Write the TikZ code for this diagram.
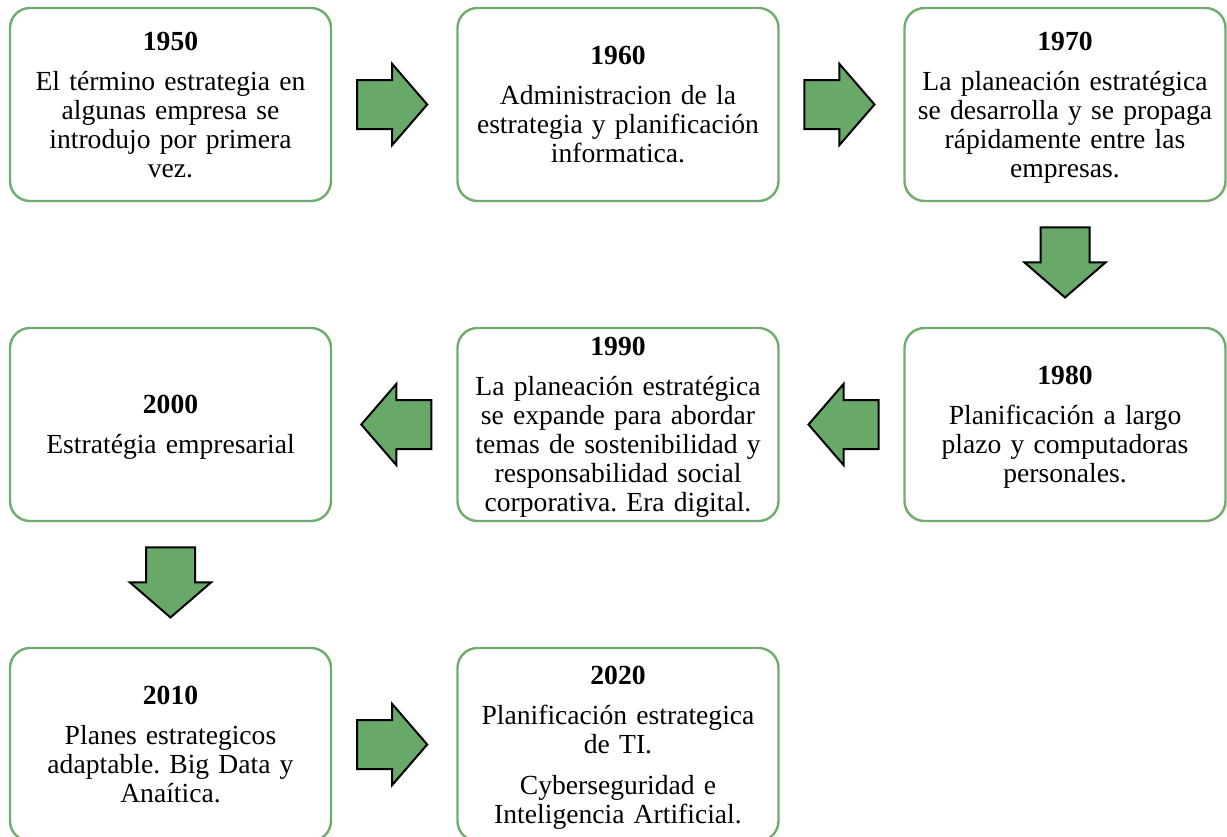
\documentclass[tikz,border=0pt]{standalone}
\usepackage{fontspec}
\setmainfont{Liberation Serif}
\usetikzlibrary{calc}

\definecolor{boxgreen}{RGB}{112,173,108}
\definecolor{arrowgreen}{RGB}{104,168,104}

\tikzset{
  yearbox/.style={draw=boxgreen, line width=2.4pt, rounded corners=20pt,
    minimum width=321pt, minimum height=193pt, inner sep=0pt, outer sep=0pt},
  boxtext/.style={font=\fontsize{27.6}{29}\selectfont\frenchspacing, align=center,
    text width=330pt, inner sep=0pt, anchor=base},
  arrowbody/.style={draw=black, fill=arrowgreen, line width=2pt, line join=miter},
  blockarrow/.pic={
    \draw[arrowbody] (-35,-24.5) -- (0,-24.5) -- (0,-40.5) -- (35,0)
      -- (0,40.5) -- (0,24.5) -- (-35,24.5) -- cycle;
  }
}

\newcommand{\yr}[1]{{\bfseries #1}\\[11pt]}

\begin{document}
\frenchspacing
\begin{tikzpicture}[x=1pt, y=-1pt]
\useasboundingbox (0,0) rectangle (1227,836);
\clip (0,0) rectangle (1227,836);

% boxes
\node[yearbox] (b1950) at (170.5,104.5) {};
\node[yearbox] (b1960) at (618,104.5) {};
\node[yearbox] (b1970) at (1065,104.5) {};
\node[yearbox] (b1980) at (1065,424.5) {};
\node[yearbox] (b1990) at (618,424.5) {};
\node[yearbox] (b2000) at (170.5,424.5) {};
\node[yearbox] (b2010) at (170.5,744.5) {};
\node[yearbox] (b2020) at (618,744.5) {};

% texts (anchored at the baseline of the year line)
\node[boxtext] (t1950) at ([yshift=-42.3pt]b1950.north)
  {\yr{1950}El término estrategia en\\algunas empresa se\\introdujo por primera\\vez.};
\node[boxtext] (t1960) at ([yshift=-56.8pt]b1960.north)
  {\yr{1960}Administracion de la\\estrategia y planificación\\informatica.};
\node[boxtext] (t1970) at ([yshift=-42.3pt]b1970.north)
  {\yr{1970}La planeación estratégica\\se desarrolla y se propaga\\rápidamente entre las\\empresas.};
\node[boxtext] (t1980) at ([yshift=-56.8pt]b1980.north)
  {\yr{1980}Planificación a largo\\plazo y computadoras\\personales.};
\node[boxtext] (t1990) at ([yshift=-27.8pt]b1990.north)
  {\yr{1990}La planeación estratégica\\se expande para abordar\\temas de sostenibilidad y\\responsabilidad social\\corporativa. Era digital.};
\node[boxtext] (t2000) at ([yshift=-85.8pt]b2000.north)
  {\yr{2000}Estratégia empresarial};
\node[boxtext] (t2010) at ([yshift=-56.8pt]b2010.north)
  {\yr{2010}Planes estrategicos\\adaptable. Big Data y\\Anaítica.};
\node[boxtext] (t2020) at ([yshift=-36.3pt]b2020.north)
  {\yr{2020}Planificación estrategica\\de TI.\\[12pt]Cyberseguridad e\\Inteligencia Artificial.};

% block arrows between consecutive boxes
\pic at ($(b1950.east)!0.484!(b1960.west)$) {blockarrow};
\pic at ($(b1960.east)!0.484!(b1970.west)$) {blockarrow};
\pic[rotate=-90] at ($(b1970.south)!0.484!(b1980.north)$) {blockarrow};
\pic[rotate=180] at ($(b1980.west)!0.484!(b1990.east)$) {blockarrow};
\pic[rotate=180] at ($(b1990.west)!0.484!(b2000.east)$) {blockarrow};
\pic[rotate=-90] at ($(b2000.south)!0.484!(b2010.north)$) {blockarrow};
\pic at ($(b2010.east)!0.484!(b2020.west)$) {blockarrow};
\end{tikzpicture}
\end{document}
